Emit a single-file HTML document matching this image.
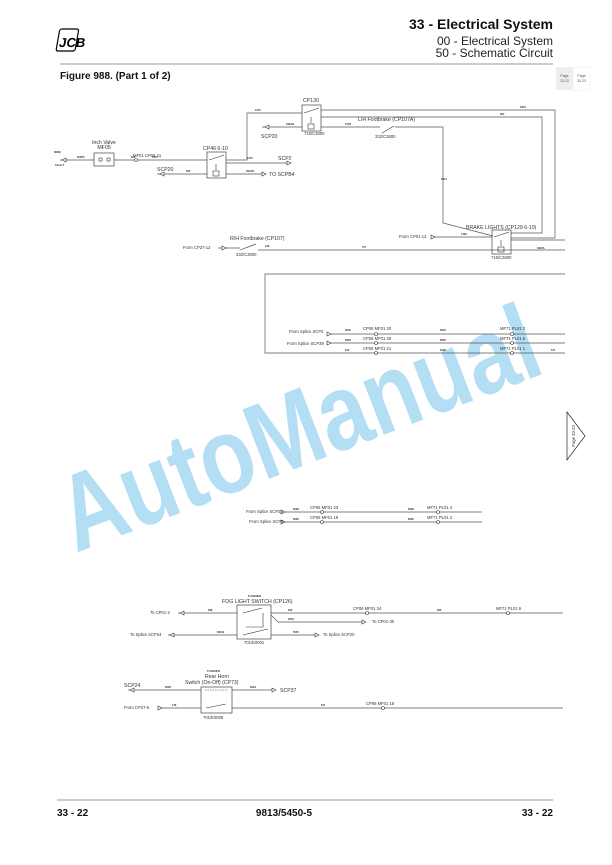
<!DOCTYPE html>
<html><head><meta charset="utf-8"><style>
html,body{margin:0;padding:0;background:#fff}
svg{display:block}
text{font-family:"Liberation Sans",Arial,sans-serif}
.t{font-size:4.2px;fill:#333}
.s{font-size:2.6px;fill:#333;font-weight:bold}
.m{font-size:5.2px;fill:#333}
</style></head><body>
<svg width="612" height="865" viewBox="0 0 612 865" xmlns="http://www.w3.org/2000/svg">
<g transform="translate(57,28) skewX(-10)">
<rect x="3" y="1" width="19" height="22" rx="2" fill="#fff" stroke="#000" stroke-width="1.2"/>
<text x="5" y="19" font-size="13" font-weight="bold" fill="#000">JCB</text>
</g>
<text x="553" y="29" text-anchor="end" font-size="14" font-weight="bold" fill="#111">33 - Electrical System</text>
<text x="553" y="45" text-anchor="end" font-size="12" fill="#222">00 - Electrical System</text>
<text x="553" y="57" text-anchor="end" font-size="12" fill="#222">50 - Schematic Circuit</text>
<line x1="60" y1="64" x2="553" y2="64" stroke="#777" stroke-width="0.8"/>
<text x="60" y="79" font-size="10" font-weight="bold" fill="#111">Figure 988. (Part 1 of 2)</text>
<rect x="556" y="67" width="17" height="23" fill="#eee"/>
<rect x="573" y="67" width="17" height="23" fill="#fff" stroke="#eee" stroke-width="0.5"/>
<text x="564.5" y="77" text-anchor="middle" font-size="3.5" fill="#555">Page</text>
<text x="564.5" y="82" text-anchor="middle" font-size="3.5" fill="#555">33-22</text>
<text x="581.5" y="77" text-anchor="middle" font-size="3.5" fill="#555">Page</text>
<text x="581.5" y="82" text-anchor="middle" font-size="3.5" fill="#555">33-23</text>

<text x="76" y="553" transform="rotate(-21 76 553)" font-size="108" font-weight="bold" fill="#b3def4" textLength="505" lengthAdjust="spacingAndGlyphs">AutoManual</text>

<g stroke="#555" stroke-width="0.7" fill="none">
<line x1="60" y1="160" x2="94" y2="160"/>
<rect x="94" y="153" width="20" height="13" stroke="#444"/>
<line x1="114" y1="160" x2="207" y2="160"/>
<rect x="207" y="152" width="19" height="26" stroke="#444"/>
<polyline points="226,160 247,160 247,113 302,113"/>
<line x1="226" y1="163" x2="290" y2="163"/>
<line x1="157" y1="174" x2="207" y2="174"/>
<line x1="226" y1="174" x2="265" y2="174"/>
<rect x="302" y="105" width="19" height="26" stroke="#444"/>
<line x1="262" y1="127" x2="302" y2="127"/>
<polyline points="321,110 555,110 555,238 511,238"/>
<polyline points="321,117 542,117 542,233 511,233"/>
<polyline points="321,127 380,127"/>
<polyline points="395,127 443,127 443,223 493,236"/>
<rect x="492" y="230" width="19" height="24" stroke="#444"/>
<line x1="432" y1="237" x2="492" y2="237"/>
<line x1="511" y1="240" x2="565" y2="240"/>
<line x1="218" y1="248" x2="240" y2="248"/>
<line x1="258" y1="250" x2="565" y2="250"/>
<polyline points="565,274 265,274 265,353 565,353"/>
<line x1="328" y1="334" x2="565" y2="334"/>
<line x1="328" y1="343" x2="565" y2="343"/>
<line x1="283" y1="512" x2="482" y2="512"/>
<line x1="283" y1="522" x2="482" y2="522"/>
<line x1="178" y1="613" x2="237" y2="613"/>
<rect x="237" y="605" width="34" height="34" stroke="#444"/>
<line x1="271" y1="613" x2="563" y2="613"/>
<polyline points="271,615 278,622 365,622"/>
<line x1="168" y1="635" x2="237" y2="635"/>
<line x1="271" y1="635" x2="318" y2="635"/>
<line x1="128" y1="690" x2="201" y2="690"/>
<rect x="201" y="687" width="31" height="26" stroke="#444"/>
<line x1="232" y1="690" x2="275" y2="690"/>
<line x1="160" y1="708" x2="201" y2="708"/>
<line x1="232" y1="708" x2="563" y2="708"/>
</g>
<g stroke="#333" stroke-width="0.6" fill="none">
<line x1="209" y1="160" x2="224" y2="155"/><line x1="216" y1="164" x2="216" y2="170"/><rect x="213" y="171" width="6" height="5"/>
<line x1="304" y1="113" x2="319" y2="108"/><line x1="311" y1="117" x2="311" y2="123"/><rect x="308" y="124" width="6" height="5"/>
<line x1="382" y1="133" x2="394" y2="126"/>
<line x1="494" y1="237" x2="509" y2="232"/><line x1="501" y1="240" x2="501" y2="246"/><rect x="498" y="247" width="6" height="5"/>
<line x1="240" y1="250" x2="256" y2="244"/>
<line x1="243" y1="613" x2="262" y2="608"/><polyline points="263,613 263,627 246,627"/><line x1="243" y1="635" x2="268" y2="629"/>
<line x1="205" y1="690" x2="228" y2="690" stroke-dasharray="1.5,1"/>
<line x1="206" y1="708" x2="226" y2="704"/>
<rect x="99" y="158" width="3" height="3"/><rect x="107" y="158" width="3" height="3"/>
</g>
<g stroke="#333" stroke-width="0.6" fill="#fff">
<path d="M62,160 l4,-2 v4z"/><path d="M160,174 l4,-2 v4z"/><path d="M265,127 l4,-2 v4z"/>
<path d="M291,163 l-4,-2 v4z"/><path d="M266,174 l-4,-2 v4z"/>
<path d="M435,237 l-4,-2 v4z"/><path d="M226,248 l-4,-2 v4z"/>
<path d="M331,334 l-4,-2 v4z"/><path d="M331,343 l-4,-2 v4z"/>
<path d="M285,512 l-4,-2 v4z"/><path d="M285,522 l-4,-2 v4z"/>
<path d="M180,613 l4,-2 v4z"/><path d="M170,635 l4,-2 v4z"/><path d="M366,622 l-4,-2 v4z"/><path d="M319,635 l-4,-2 v4z"/>
<path d="M130,690 l4,-2 v4z"/><path d="M276,690 l-4,-2 v4z"/><path d="M162,708 l-4,-2 v4z"/>
<circle cx="136" cy="160" r="1.5"/>
<circle cx="376" cy="334" r="1.5"/><circle cx="376" cy="343" r="1.5"/><circle cx="376" cy="353" r="1.5"/>
<circle cx="512" cy="334" r="1.5"/><circle cx="512" cy="343" r="1.5"/><circle cx="512" cy="353" r="1.5"/>
<circle cx="322" cy="512" r="1.5"/><circle cx="322" cy="522" r="1.5"/><circle cx="438" cy="512" r="1.5"/><circle cx="438" cy="522" r="1.5"/>
<circle cx="367" cy="613" r="1.5"/><circle cx="508" cy="613" r="1.5"/><circle cx="383" cy="708" r="1.5"/>
</g>
<text class="m" x="104" y="144" text-anchor="middle">Inch Valve</text>
<text class="m" x="104" y="149" text-anchor="middle">MF05</text>
<text class="t" x="133" y="157">MF01 CP06 41</text>
<text class="m" x="203" y="150">CP46 6-10</text>
<text class="m" x="303" y="102">CP130</text>
<text class="m" x="278" y="160">SCP2</text>
<text class="m" x="157" y="171">SCP20</text>
<text class="m" x="269" y="176">TO SCPB4</text>
<text class="m" x="261" y="138">SCP20</text>
<text class="t" x="304" y="135">716/C3600</text>
<text class="m" x="358" y="121">L/H Footbrake (CP107A)</text>
<text class="t" x="375" y="138">332/C3600</text>
<text class="m" x="466" y="229">BRAKE LIGHTS (CP129 6-10)</text>
<text class="t" x="399" y="238">From CP01-12</text>
<text class="t" x="491" y="259">716/C3600</text>
<text class="m" x="230" y="240">R/H Footbrake (CP107)</text>
<text class="t" x="236" y="256">332/C3600</text>
<text class="t" x="183" y="249">From CP27-12</text>
<text class="t" x="289" y="333">From Splice SCP3</text>
<text class="t" x="287" y="345">From Splice SCP39</text>
<text class="t" x="363" y="330">CP06 MF01 20</text>
<text class="t" x="363" y="340">CP06 MF01 30</text>
<text class="t" x="363" y="350">CP06 MF01 21</text>
<text class="t" x="500" y="330">MF71 PL01 3</text>
<text class="t" x="500" y="340">MF71 PL01 5</text>
<text class="t" x="500" y="350">MF71 PL01 1</text>
<text class="t" x="246" y="513">From Splice SCP24</text>
<text class="t" x="249" y="523">From Splice SCP9</text>
<text class="t" x="310" y="509">CP06 MF01 23</text>
<text class="t" x="310" y="519">CP06 MF01 19</text>
<text class="t" x="427" y="509">MF71 PL01 4</text>
<text class="t" x="427" y="519">MF71 PL01 2</text>
<text class="m" x="222" y="603">FOG LIGHT SWITCH (CP126)</text>
<text class="s" x="248" y="597">TH1/E0829</text>
<text class="t" x="244" y="644">701/E0001</text>
<text class="t" x="150" y="614">To CP01-2</text>
<text class="t" x="130" y="636">To Splice SCP24</text>
<text class="t" x="372" y="623">To CP01-30</text>
<text class="t" x="323" y="636">To Splice SCP20</text>
<text class="t" x="353" y="610">CP06 MF01 34</text>
<text class="t" x="496" y="610">MF71 PL01 6</text>
<text class="s" x="207" y="672">TH1/E0845</text>
<text class="m" x="205" y="678">Rear Horn</text>
<text class="m" x="185" y="684">Switch (On-Off) (CP73)</text>
<text class="m" x="124" y="687">SCP24</text>
<text class="m" x="280" y="692">SCP37</text>
<text class="t" x="124" y="709">From CP27-6</text>
<text class="t" x="203" y="719">701/E0008</text>
<text class="t" x="366" y="705">CP06 MF01 18</text>
<g class="s">
<text x="54" y="153">8N0B</text><text x="55" y="166">Sheet 5</text>
<text x="77" y="158">600PC</text><text x="131" y="158">605</text><text x="152" y="158">1651</text>
<text x="247" y="159">1676</text><text x="186" y="172">635</text><text x="246" y="172">291XD</text>
<text x="255" y="111">1610</text><text x="286" y="125">630AB</text><text x="345" y="125">617B</text>
<text x="520" y="108">6304</text><text x="500" y="115">664</text><text x="441" y="180">6021</text>
<text x="461" y="235">1366</text><text x="537" y="249">3002A</text><text x="362" y="248">377</text><text x="265" y="247">136</text>
<text x="345" y="331">800C</text><text x="345" y="341">8306</text><text x="345" y="351">815</text>
<text x="440" y="331">800C</text><text x="440" y="341">8306</text><text x="440" y="351">8156</text>
<text x="551" y="351">671</text>
<text x="293" y="510">8098</text><text x="293" y="520">8090</text><text x="408" y="510">8098</text><text x="408" y="520">8090</text>
<text x="208" y="611">968</text><text x="288" y="611">835</text><text x="288" y="620">835C</text><text x="437" y="611">835</text>
<text x="217" y="633">8004J</text><text x="293" y="633">5005</text>
<text x="165" y="688">823S</text><text x="250" y="688">823A</text><text x="172" y="706">136</text><text x="321" y="706">811</text>
</g>
<path d="M567,412 L585,436 L567,460 Z" fill="#fff" stroke="#222" stroke-width="0.7"/>
<text x="575" y="436" transform="rotate(-90 575 436)" text-anchor="middle" font-size="4.2" fill="#333">Page 33-23</text>
<line x1="57" y1="800" x2="553" y2="800" stroke="#777" stroke-width="0.8"/>
<text x="57" y="816" font-size="10" font-weight="bold" fill="#111">33 - 22</text>
<text x="284" y="816" text-anchor="middle" font-size="10" font-weight="bold" fill="#111">9813/5450-5</text>
<text x="553" y="816" text-anchor="end" font-size="10" font-weight="bold" fill="#111">33 - 22</text>
</svg>
</body></html>
